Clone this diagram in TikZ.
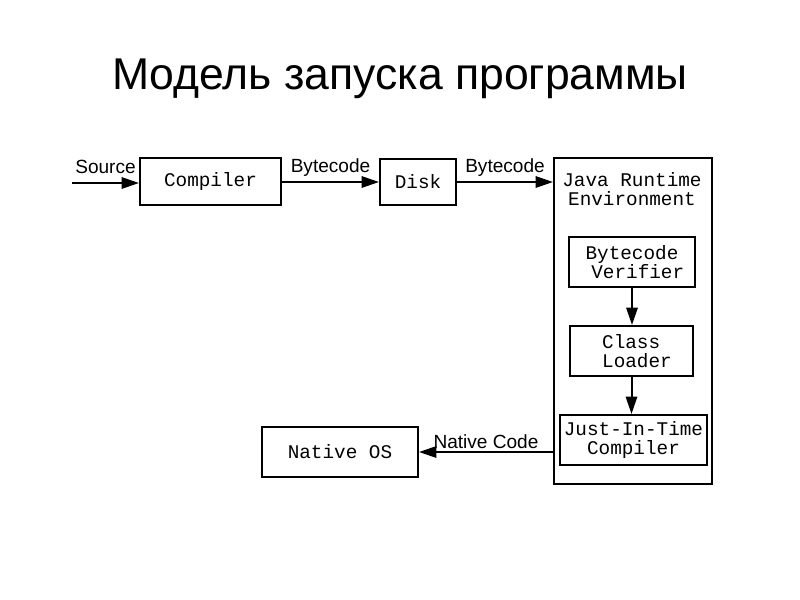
\documentclass[tikz,border=0pt]{standalone}
\usepackage{fontspec}
\setmainfont{Liberation Sans}
\newfontfamily\monofam{Liberation Mono}
\usetikzlibrary{arrows.meta}
\tikzset{
  box/.style={draw, line width=1.5pt, inner sep=0pt, align=center,
    font=\monofam\fontsize{14.5}{14.25}\selectfont},
  conn/.style={line width=1.5pt, -{Triangle[length=13pt,width=8.5pt]}},
  lbl/.style={font=\fontsize{14.3}{16}\selectfont, inner sep=0pt, anchor=base}
}
\begin{document}
\begin{tikzpicture}[x=0.75pt,y=-0.75pt]
\useasboundingbox (0,0) rectangle (800,600);
\node[anchor=base, font=\fontsize{33.4}{38}\selectfont, inner sep=0pt] (title) at (400,89) {Модель запуска программы};

\node[box, minimum width=105.75pt, minimum height=35.25pt] (comp) at (210.5,181.5) {Compiler};
\node[box, minimum width=57pt, minimum height=34.5pt] (disk) at (418,182) {Disk};
\node[box, minimum width=118.5pt, minimum height=244.5pt] (jre) at (633,321) {};
\node[font=\monofam\fontsize{14.5}{14.25}\selectfont, align=center, inner sep=0pt, anchor=north] (jrel) at (632,172) {Java Runtime\\Environment};
\node[box, minimum width=94.5pt, minimum height=37.5pt] (ver) at (632,262) {Bytecode\\\ Verifier};
\node[box, minimum width=92.25pt, minimum height=37.5pt, align=left, text width=44pt] (cl) at (631.5,351) {Class\\Loader};
\node[box, minimum width=110.25pt, minimum height=37.5pt] (jit) at (633.5,440) {Just-In-Time\\Compiler};
\node[box, minimum width=117pt, minimum height=37.5pt] (nos) at (340,452) {Native OS};

\coordinate (src) at (72,183);
\draw[conn] (src) -- (src -| comp.west) node[lbl, midway, yshift=7pt] {Source};
\draw[conn] (comp.east |- disk.west) -- (disk.west) node[lbl, midway, yshift=7pt] {Bytecode};
\draw[conn] (disk.east) -- (disk.east -| jre.west) node[lbl, midway, yshift=7pt] {Bytecode};
\draw[conn] (ver.south) -- (ver.south |- cl.north);
\draw[conn] (cl.south) -- (cl.south |- jit.north);
\draw[conn] (nos.east -| jre.west) -- (nos.east) node[lbl, midway, yshift=3pt] {Native Code};
\end{tikzpicture}
\end{document}
